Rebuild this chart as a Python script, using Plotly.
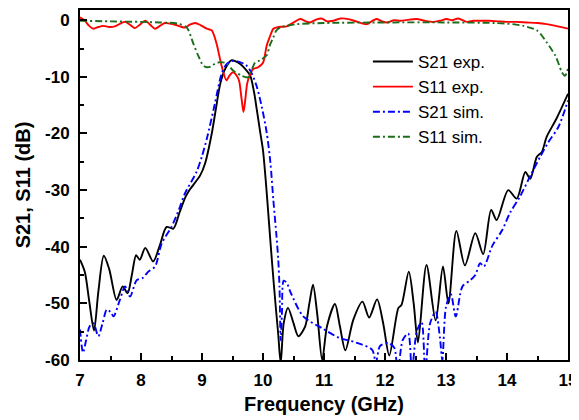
import plotly.graph_objects as go

# ---------------- data ----------------
s21_exp_f = [7.00, 7.08, 7.15, 7.23, 7.30, 7.39, 7.48, 7.60, 7.70, 7.78, 7.85, 7.92, 7.98, 8.07,
             8.20, 8.31, 8.42, 8.53, 8.63, 8.73, 8.80, 8.97, 9.05, 9.16, 9.23, 9.30, 9.38, 9.48,
             9.56, 9.62, 9.70, 9.79, 9.85, 9.90, 9.95, 10.00, 10.05, 10.10, 10.15, 10.20, 10.25,
             10.29, 10.34, 10.41, 10.50, 10.58, 10.69, 10.76, 10.82, 10.89, 10.97, 11.05, 11.18,
             11.26, 11.35, 11.48, 11.63, 11.74, 11.87, 11.97, 12.07, 12.22, 12.27, 12.39, 12.47,
             12.54, 12.68, 12.83, 12.95, 13.04, 13.17, 13.31, 13.48, 13.61, 13.74, 13.83, 14.02,
             14.16, 14.30, 14.38, 14.49, 14.57, 14.65, 14.81, 15.00]
s21_exp_db = [-42.3, -44.5, -49.5, -54.8, -48.0, -41.6, -44.0, -49.4, -47.0, -48.2, -45.0, -41.5, -42.3, -40.2,
              -42.6, -39.7, -36.5, -36.8, -34.0, -31.2, -29.9, -27.4, -25.3, -20.0, -15.5, -11.2, -8.6, -7.1,
              -7.3, -7.7, -8.5, -9.8, -12.5, -15.9, -19.5, -23.0, -29.0, -36.0, -43.0, -49.5, -55.5,
              -60.5, -53.5, -50.8, -53.5, -55.8, -54.1, -50.0, -46.7, -52.0, -60.0, -54.0, -50.1,
              -54.0, -58.3, -52.9, -49.7, -52.5, -49.3, -53.5, -59.2, -50.8, -50.3, -44.4, -50.0,
              -56.9, -43.2, -53.0, -43.5, -50.0, -37.2, -43.3, -37.6, -41.3, -33.5, -35.3, -30.0,
              -31.5, -26.8, -28.0, -24.1, -23.3, -20.6, -17.4, -13.0]

s11_exp_f = [7.00, 7.08, 7.15, 7.22, 7.30, 7.38, 7.48, 7.57, 7.66, 7.74, 7.82, 7.90, 7.98, 8.07,
             8.15, 8.23, 8.31, 8.39, 8.47, 8.56, 8.64, 8.72, 8.80, 8.89, 8.98, 9.08, 9.16, 9.24,
             9.32, 9.40, 9.45, 9.51, 9.58, 9.61, 9.65, 9.68, 9.71, 9.74, 9.78, 9.83, 9.92, 10.00,
             10.06, 10.11, 10.17, 10.25, 10.39, 10.50, 10.61, 10.70, 10.77, 10.87, 10.96, 11.05,
             11.15, 11.27, 11.40, 11.55, 11.70, 11.78, 11.86, 11.95, 12.03, 12.15, 12.25, 12.40,
             12.52, 12.65, 12.79, 12.90, 13.01, 13.10, 13.20, 13.34, 13.45, 13.56, 13.70, 13.85,
             13.99, 14.15, 14.32, 14.50, 14.65, 14.80, 15.00]
s11_exp_db = [0.5, -0.1, -1.0, -1.5, -1.2, -1.0, -1.2, -1.1, -0.6, -0.3, -0.8, -1.4, -0.8, -0.1,
              -0.8, -1.5, -1.0, -0.5, -0.6, -0.8, -1.1, -1.3, -0.8, -0.5, -0.9, -1.5, -1.8, -4.2,
              -8.0, -10.6, -9.8, -9.2, -10.0, -10.8, -14.0, -16.2, -14.0, -11.2, -9.8, -8.7, -8.3, -7.5,
              -4.5, -3.0, -1.5, -1.2, -1.1, -0.4, 0.2, -0.2, -0.4, 0.1, 0.3, -0.2,
              -0.1, 0.3, 0.2, -0.3, -0.7, -0.2, 0.2, -0.2, -0.4, 0.0, -0.1, 0.1,
              0.2, -0.1, -0.3, -0.1, 0.2, 0.0, 0.3, -0.3, -0.1, -0.1, -0.1, -0.2,
              -0.3, -0.3, -0.4, -0.5, -0.7, -1.0, -1.5]

s21_sim_f = [7.00, 7.05, 7.10, 7.16, 7.22, 7.30, 7.37, 7.44, 7.50, 7.55, 7.65, 7.74, 7.82, 7.93,
             8.03, 8.12, 8.23, 8.34, 8.50, 8.62, 8.72, 8.91, 9.00, 9.08, 9.21, 9.32, 9.40, 9.50,
             9.62, 9.73, 9.82, 9.90, 9.98, 10.06, 10.12, 10.17, 10.22, 10.25, 10.27, 10.29, 10.31,
             10.34, 10.39, 10.45, 10.66, 10.97, 11.25, 11.52, 11.79, 11.85, 11.92, 12.05, 12.15,
             12.21, 12.29, 12.38, 12.44, 12.52, 12.60, 12.66, 12.74, 12.83, 12.90, 12.94, 13.00,
             13.08, 13.16, 13.27, 13.40, 13.48, 13.56, 13.62, 13.76, 13.92, 14.05, 14.21, 14.40,
             14.54, 14.68, 14.84, 15.00]
s21_sim_db = [-54.6, -58.7, -56.5, -54.0, -53.5, -55.8, -53.5, -51.1, -51.5, -52.3, -49.5, -47.0, -48.8, -45.9,
              -45.5, -44.4, -43.5, -39.4, -36.5, -33.5, -30.6, -26.8, -24.0, -20.9, -14.8, -9.5, -7.8, -7.2,
              -7.4, -8.0, -9.5, -11.8, -15.3, -19.8, -25.0, -31.8, -38.0, -42.3, -47.0, -56.5, -52.0,
              -46.0, -46.4, -48.0, -52.3, -54.4, -56.1, -56.9, -58.2, -60.5, -57.5, -57.0, -57.8,
              -62.0, -56.5, -55.3, -62.0, -55.0, -53.3, -62.0, -53.5, -51.5, -56.0, -60.0, -50.6,
              -48.4, -52.3, -47.0, -45.9, -45.0, -42.9, -43.5, -39.8, -37.1, -34.0, -31.2, -27.1,
              -24.2, -21.5, -18.9, -14.2]

s11_sim_f = [7.00, 7.50, 8.00, 8.31, 8.60, 8.75, 8.86, 8.94, 9.02, 9.08, 9.14, 9.21, 9.30, 9.40,
             9.51, 9.65, 9.75, 9.80, 9.87, 9.95, 10.06, 10.11, 10.17, 10.22, 10.30, 10.39, 10.55,
             11.00, 12.00, 13.00, 13.80, 14.10, 14.27, 14.40, 14.49, 14.57, 14.65, 14.72, 14.79,
             14.85, 14.90, 14.95, 15.00]
s11_sim_db = [-0.1, -0.2, -0.3, -0.4, -0.6, -1.3, -4.2, -6.3, -8.0, -8.3, -8.2, -7.7, -7.4, -7.6,
              -8.9, -9.8, -10.1, -9.2, -7.5, -7.1, -6.2, -4.5, -3.0, -1.8, -1.2, -1.0, -0.7,
              -0.5, -0.4, -0.4, -0.5, -0.7, -1.0, -1.4, -1.8, -2.7, -3.9, -5.0, -6.2,
              -7.8, -9.2, -9.8, -8.6]

x_ticks = [7, 8, 9, 10, 11, 12, 13, 14, 15]
y_ticks = [0, -10, -20, -30, -40, -50, -60]
y_tick_text = ["0", "-10", "-20", "-30", "-40", "-50", "-60"]

series_names = ["S21 exp.", "S11 exp.", "S21 sim.", "S11 sim."]

# ---------------- figure ----------------
FONT = "Arial, 'Liberation Sans', sans-serif"
fig = go.Figure()

styles = [
    (s21_exp_f, s21_exp_db, "#000000", "solid"),
    (s11_exp_f, s11_exp_db, "#ff0000", "solid"),
    (s21_sim_f, s21_sim_db, "#0000ff", "7px,3px,2px,3px"),
    (s11_sim_f, s11_sim_db, "#1a6e1a", "7px,3px,2px,3px"),
]
for (xs, ys, col, dash), name in zip(styles, series_names):
    fig.add_trace(go.Scatter(
        x=xs, y=ys, mode="lines", name=name,
        line=dict(color=col, width=1.9, dash=dash, shape="spline", smoothing=0.8),
    ))

axis_common = dict(
    showgrid=False, zeroline=False, showline=True, linecolor="black", linewidth=2,
    mirror=True, ticks="inside", ticklen=7, tickwidth=2, tickcolor="black",
    tickfont=dict(family=FONT, size=17, color="black", weight="bold"),
    automargin=False,
)

fig.update_xaxes(
    range=[7, 15], tickvals=x_ticks, ticktext=[str(v) for v in x_ticks],
    minor=dict(ticks="inside", ticklen=4, tickwidth=2, dtick=0.5, tickcolor="black"),
    title=dict(text="<b>Frequency (GHz)</b>", font=dict(family=FONT, size=20, color="black"), standoff=8),
    ticklabelstandoff=4,
    **axis_common,
)
fig.update_yaxes(
    range=[-60, 1.8], tickvals=y_ticks, ticktext=y_tick_text,
    minor=dict(ticks="inside", ticklen=4, tickwidth=2, dtick=5, tickcolor="black"),
    title=dict(text="<b>S21, S11 (dB)</b>", font=dict(family=FONT, size=20, color="black"), standoff=9),
    ticklabelstandoff=5,
    **axis_common,
)

# The page body adds an 8 px offset, so the figure's own margins are reduced by 8 px.
fig.update_layout(
    width=579, height=420,
    margin=dict(l=72, r=19, t=2, b=68),
    paper_bgcolor="white", plot_bgcolor="white",
    showlegend=True,
    legend=dict(
        x=0.59, y=0.903, xanchor="left", yanchor="top",
        bgcolor="rgba(0,0,0,0)", borderwidth=0,
        font=dict(family=FONT, size=17, color="black"),
        itemwidth=40, tracegroupgap=0,
    ),
)

fig.write_html("out.html")
